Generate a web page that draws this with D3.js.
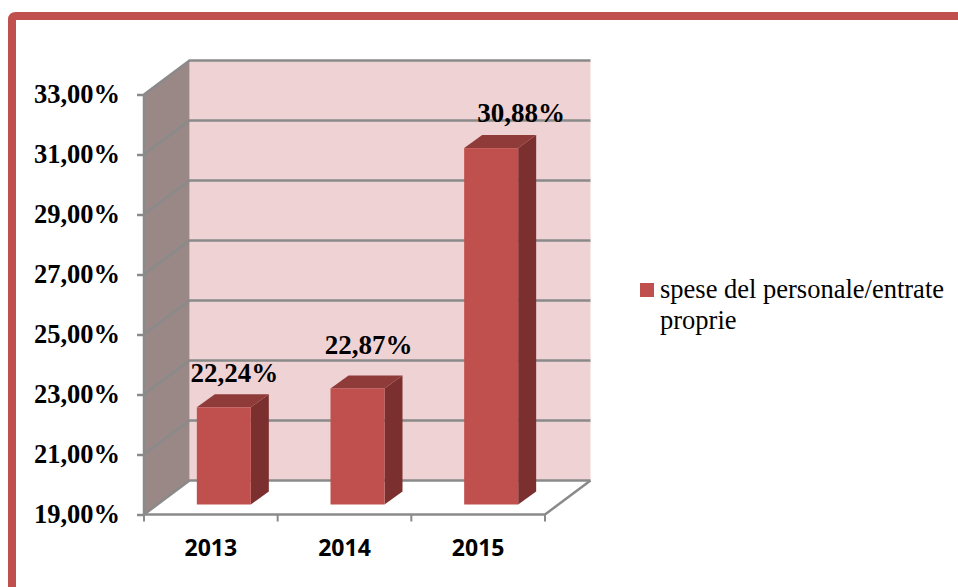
<!DOCTYPE html>
<html>
<head>
<meta charset="utf-8">
<script src="https://cdn.jsdelivr.net/npm/d3@7"></script>
<style>
  html, body { margin: 0; padding: 0; background: #fff; }
  svg { display: block; }
</style>
</head>
<body>
<svg class="chart" width="958" height="587"></svg>
<script>
const years = ['2013', '2014', '2015'];
const speseValues = [22.24, 22.87, 30.88];
const yTicks = [19, 21, 23, 25, 27, 29, 31, 33];
const gridValues = [21, 23, 25, 27, 29, 31];
const legendLines = ['spese del personale/entrate', 'proprie'];

const svg = d3.select('svg.chart');
const RED = '#c0504d';
const GREY = '#8a8a8a';
const serif = '"Liberation Serif", serif';

// 3d offset of the back wall and of the bars front face
const depth = { dx: 45.5, dy: -34 };
const barFront = { dx: 13, dy: -10 };
const barDepth = { dx: 18, dy: -13 };
const barWidth = 54;

const x = d3.scaleBand().domain(years).range([144, 545]);
const y = d3.scaleLinear().domain([19, 33]).range([514.5, 94.5]);
const line = d3.line();

// frame, open at right and bottom
svg.append('path')
  .attr('d', 'M12,587 V20 Q12,16 16,16 H958')
  .attr('fill', 'none')
  .attr('stroke', RED)
  .attr('stroke-width', 8);

// back wall
svg.append('rect')
  .attr('x', 144 + depth.dx)
  .attr('y', y(33) + depth.dy)
  .attr('width', 545 - 144)
  .attr('height', y(19) - y(33))
  .attr('fill', '#efd3d4');

// side wall
svg.append('path')
  .attr('d', line([
    [144, y(33)], [144 + depth.dx, y(33) + depth.dy],
    [144 + depth.dx, y(19) + depth.dy], [144, y(19)]
  ]) + 'Z')
  .attr('fill', '#9a8887');

// grid lines on side and back wall
const gridG = svg.append('g')
  .attr('fill', 'none')
  .attr('stroke', GREY)
  .attr('stroke-width', 2.5);

gridG.selectAll('path.grid')
  .data(gridValues.concat([19, 33]))
  .enter()
  .append('path')
  .classed('grid', true)
  .attr('d', d => line([
    [144, y(d)],
    [144 + depth.dx, y(d) + depth.dy],
    [545 + depth.dx, y(d) + depth.dy]
  ]));

// floor right edge
gridG.append('path')
  .attr('d', line([[545, y(19)], [545 + depth.dx, y(19) + depth.dy]]));

// axes
const yAxis = svg.append('g')
  .attr('transform', 'translate(144,0)')
  .call(d3.axisLeft(y)
    .tickValues(yTicks)
    .tickSize(7)
    .tickPadding(17)
    .tickFormat(d => d3.format('.2f')(d).replace('.', ',') + '%'));

yAxis.selectAll('line, path').attr('stroke', GREY).attr('stroke-width', 2.5);
yAxis.select('path').attr('d', 'M0,' + y(33) + 'V' + y(19));
yAxis.selectAll('text')
  .attr('fill', '#000')
  .style('font', 'bold 26.5px ' + serif);

const xAxis = svg.append('g')
  .attr('transform', 'translate(0,' + y(19) + ')')
  .call(d3.axisBottom(x).tickSize(0).tickPadding(25));

xAxis.select('path').attr('stroke', GREY).attr('stroke-width', 2.5).attr('d', 'M144,0H545');
xAxis.selectAll('text')
  .attr('fill', '#000')
  .style('font', 'bold 23px "Open Sans", sans-serif');

// category boundary ticks
xAxis.selectAll('line.boundary')
  .data(d3.range(years.length + 1))
  .enter()
  .append('line')
  .classed('boundary', true)
  .attr('x1', i => 144 + i * x.step())
  .attr('x2', i => 144 + i * x.step())
  .attr('y1', 0)
  .attr('y2', 7)
  .attr('stroke', GREY)
  .attr('stroke-width', 2);

// bars: side, top, front
const bars = svg.selectAll('g.bar')
  .data(years.map((year, i) => ({ year: year, value: speseValues[i] })))
  .enter()
  .append('g')
  .classed('bar', true);

function barLeft(d) {
  return x(d.year) + x.bandwidth() / 2 - barWidth / 2 + barFront.dx;
}
function barTop(d) {
  return y(d.value) + barFront.dy;
}
function barBottom() {
  return y(19) + barFront.dy;
}

bars.append('path')
  .attr('fill', '#7b302f')
  .attr('d', d => {
    const r = barLeft(d) + barWidth;
    return line([
      [r, barTop(d)], [r + barDepth.dx, barTop(d) + barDepth.dy],
      [r + barDepth.dx, barBottom() + barDepth.dy], [r, barBottom()]
    ]) + 'Z';
  });

bars.append('path')
  .attr('fill', '#8f3b39')
  .attr('d', d => {
    const l = barLeft(d);
    return line([
      [l, barTop(d)], [l + barDepth.dx, barTop(d) + barDepth.dy],
      [l + barWidth + barDepth.dx, barTop(d) + barDepth.dy], [l + barWidth, barTop(d)]
    ]) + 'Z';
  });

bars.append('rect')
  .attr('fill', RED)
  .attr('x', barLeft)
  .attr('y', barTop)
  .attr('width', barWidth)
  .attr('height', d => barBottom() - barTop(d));

// data labels were moved by hand in the original
const labelNudge = { '2013': [10.5, -25], '2014': [11, -34], '2015': [30, -26] };

bars.append('text')
  .attr('x', d => barLeft(d) + barWidth / 2 + labelNudge[d.year][0])
  .attr('y', d => barTop(d) + labelNudge[d.year][1])
  .attr('text-anchor', 'middle')
  .attr('fill', '#000')
  .style('font', 'bold 27px ' + serif)
  .text(d => d3.format('.2f')(d.value).replace('.', ',') + '%');

// legend
svg.append('rect')
  .attr('x', 640)
  .attr('y', 283)
  .attr('width', 14)
  .attr('height', 14)
  .attr('fill', RED);

svg.selectAll('text.legend')
  .data(legendLines)
  .enter()
  .append('text')
  .classed('legend', true)
  .attr('x', 660)
  .attr('y', (d, i) => 298 + i * 31)
  .attr('fill', '#000')
  .style('font', '26.5px ' + serif)
  .text(d => d);
</script>
</body>
</html>
